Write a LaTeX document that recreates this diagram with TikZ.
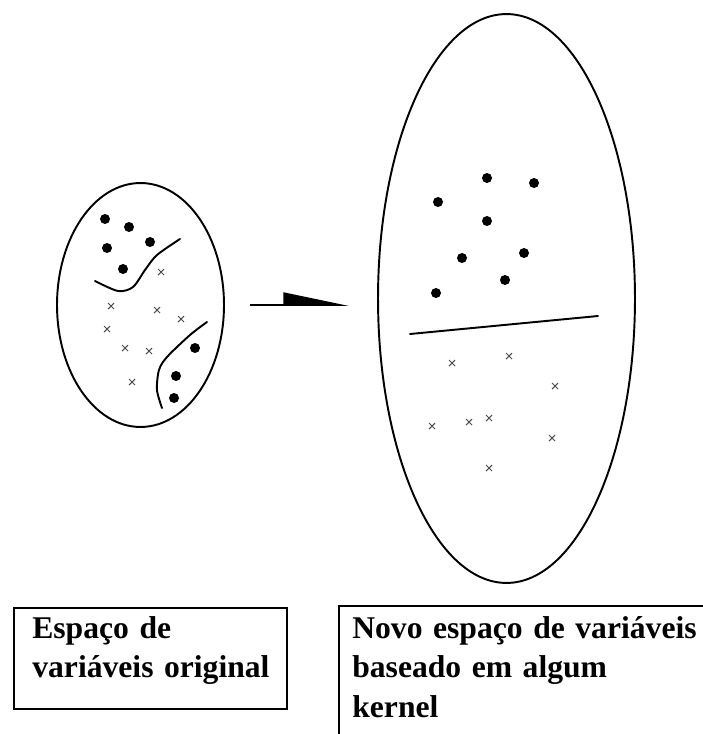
\documentclass[tikz,border=0pt]{standalone}
\usepackage{fontspec}
\setmainfont{Liberation Serif}
\usepackage{tikz}
\usetikzlibrary{arrows.meta,positioning,shapes.geometric}
\tikzset{
  espaco/.style={draw,ellipse,line width=1.1pt,inner sep=0pt},
  caixa/.style={draw,line width=1.1pt,inner sep=0pt,anchor=north west},
  rotulo/.style={anchor=base west,inner sep=0pt,align=left,text width=7.5cm,font=\bfseries\fontsize{18}{22.5}\selectfont},
  fronteira/.style={line width=1.1pt,line cap=round},
  ponto/.style={fill=black},
  xis/.style={draw=black!70,line width=0.6pt},
  seta/.style={-{Triangle[harpoon,length=1.22cm,width=0.5cm]},line width=1.1pt}
}
\begin{document}
\begin{tikzpicture}[x=0.02cm,y=-0.02cm]
  \useasboundingbox (0,0) rectangle (703,734);
  \clip (0,0) rectangle (703,734);
  % os dois espacos
  \node[espaco,minimum width=3.34cm,minimum height=4.88cm] (orig) at (140.5,305) {};
  \node[espaco,minimum width=5.14cm,minimum height=11.38cm] (novo) at (506.5,298.5) {};
  \draw[seta,shorten <=0.5cm,shorten >=0.56cm] (orig.east) -- (orig.east -| novo.west);

  % espaco original: pontos e fronteiras
  \foreach \p in {(105,219),(129,227),(150,242),(107,248),(123,269),(195,348),(176,376),(174,398)}
    \fill[ponto] \p circle (0.1cm);
  \foreach \p in {(161,272),(111,306),(157,310),(181,319),(107,329),(125,348),(149,351),(132,382)}
    \draw[xis] \p ++(-3,-3) -- ++(6,6) ++(-6,0) -- ++(6,-6);
  \draw[fronteira] plot[smooth] coordinates {(95,281) (118,291) (133,287) (145,270) (157,255) (180,239)};
  \draw[fronteira] plot[smooth] coordinates {(207,322) (190,335) (167,357) (159,370) (157,390) (162,408)};

  % novo espaco: pontos e hiperplano
  \foreach \p in {(487,178),(534,183),(438,202),(487,221),(462,258),(524,253),(505,280),(436,293)}
    \fill[ponto] \p circle (0.1cm);
  \foreach \p in {(452,363),(509,356),(555,386),(432,426),(469,422),(489,418),(552,438),(489,468)}
    \draw[xis] \p ++(-3,-3) -- ++(6,6) ++(-6,0) -- ++(6,-6);
  \coordinate (h1) at (410,334);
  \coordinate (h2) at (598,316);
  \draw[fronteira] (h1) -- (h2);

  % legendas
  \node[caixa,minimum width=5.46cm,minimum height=2.02cm] (cx1) at (13,607) {};
  \node[rotulo] (t1) at ([xshift=0.38cm,yshift=-0.62cm]cx1.north west)
    {Espaço de\\variáveis original};
  \node[caixa,minimum width=8cm,minimum height=3cm] (cx2) at (338,605) {};
  \node[rotulo] (t2) at ([xshift=0.28cm,yshift=-0.66cm]cx2.north west)
    {Novo espaço de variáveis\\baseado em algum\\kernel};
\end{tikzpicture}
\end{document}
